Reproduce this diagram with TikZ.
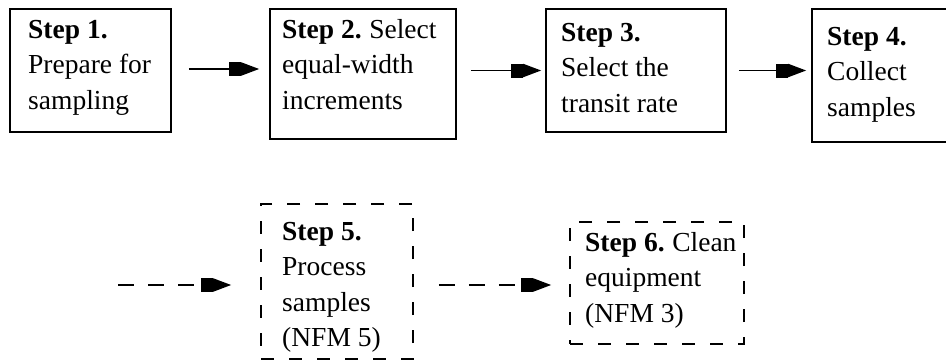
\documentclass[tikz,border=0pt]{standalone}
\usepackage{fontspec}
\setmainfont{Liberation Serif}
\usetikzlibrary{arrows.meta,calc}
\begin{document}
\begin{tikzpicture}[x=1pt,y=-1pt,
  solidbox/.style={draw=black,line width=1.6pt,rectangle,inner sep=0pt},
  dashbox/.style={draw=black,line width=1.6pt,rectangle,inner sep=0pt,dash pattern=on 13pt off 15pt},
  txt/.style={anchor=north west,inner sep=0pt,align=left,text=black,font=\fontsize{27.5}{35.5}\selectfont},
  conn/.style={line width=1.8pt,-{Rectangle[length=12pt,width=14pt,sep=0pt]Triangle[length=18pt,width=13pt]}},
  dconn/.style={conn,dash pattern=on 16pt off 14pt}]
\useasboundingbox (0,0) rectangle (946,362);
\clip (0,0) rectangle (946,362);
% boxes
\node[solidbox,minimum width=161pt,minimum height=123pt] (b1) at (90.5,70.5) {};
\node[solidbox,minimum width=186pt,minimum height=130pt] (b2) at (363,74) {};
\node[solidbox,minimum width=180pt,minimum height=123pt] (b3) at (636,70.5) {};
\node[solidbox,minimum width=178pt,minimum height=133pt] (b4) at (901,75.5) {};
\node[dashbox,minimum width=152pt,minimum height=155pt] (b5) at (337,281.5) {};
\node[dashbox,minimum width=174pt,minimum height=122pt] (b6) at (657,283) {};
% texts
\node[txt] (t1) at (28,13) {\rule{0pt}{25pt}\textbf{Step 1.}\\Prepare for\\sampling};
\node[txt] (t2) at (282,13) {\rule{0pt}{25pt}\textbf{Step 2.}\hspace{-1.5pt} Select\\equal-width\\increments};
\node[txt] (t3) at (561,16) {\rule{0pt}{25pt}\textbf{Step 3.}\\Select the\\transit rate};
\node[txt] (t4) at (827,20) {\rule{0pt}{25pt}\textbf{Step 4.}\\Collect\\samples};
\node[txt] (t5) at (282,215) {\rule{0pt}{25pt}\textbf{Step 5.}\\Process\\samples\\(NFM 5)};
\node[txt] (t6) at (585,226) {\rule{0pt}{25pt}\textbf{Step 6.}\hspace{-1.5pt} Clean\\equipment\\(NFM 3)};
% connectors
\draw[conn] ($(b1.east)+(17,-1.5)$) -- ($(b2.west |- b1.east)+(-10,-1.5)$);
\draw[conn] ($(b2.east |- b3.west)+(14,0)$) -- ($(b3.west)+(-4,0)$);
\draw[conn] ($(b3.east)+(12,0)$) -- ($(b4.west |- b3.east)+(-5,0)$);
\coordinate (s) at (118,285);
\draw[dconn] (s) -- ($(b5.west |- s)+(-29,0)$);
\draw[dconn] ($(b5.east |- s)+(25,0)$) -- ($(b6.west |- s)+(-18,0)$);
\end{tikzpicture}
\end{document}
